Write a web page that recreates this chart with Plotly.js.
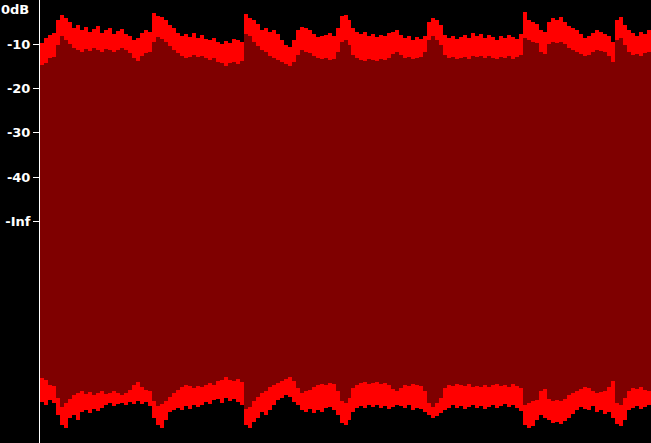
<!DOCTYPE html>
<html>
<head>
<meta charset="utf-8">
<script src="https://cdn.plot.ly/plotly-3.0.1.min.js"></script>
<style>html,body{margin:0;padding:0;background:#000;}#chart{width:651px;height:443px;}</style>
</head>
<body>
<div id="chart"></div>
<script>
// Per-column waveform summary (dB). Positive peak, negative peak, RMS.
const peakPosDb = [-9.7,-8.6,-7.9,-7.4,-4.5,-3.4,-4.1,-5.0,-6.3,-5.6,-6.8,-6.1,-7.2,-6.5,-5.9,-7.4,-6.8,-6.3,-7.7,-7.0,
-6.5,-7.7,-8.1,-9.0,-8.6,-7.4,-6.8,-7.2,-2.9,-3.6,-3.8,-4.5,-5.6,-6.3,-7.4,-8.1,-7.7,-8.4,-7.4,-8.6,
-7.9,-8.8,-9.0,-8.6,-9.5,-9.9,-9.3,-9.7,-8.8,-9.0,-9.5,-3.2,-4.1,-4.5,-5.4,-6.8,-6.3,-7.2,-6.8,-7.7,
-9.0,-10.2,-10.6,-9.0,-6.8,-6.1,-6.3,-6.8,-7.7,-8.4,-8.1,-7.9,-7.4,-8.1,-6.3,-3.6,-3.4,-4.5,-6.3,-7.2,
-7.7,-7.2,-8.1,-7.7,-8.4,-7.9,-8.1,-7.4,-7.2,-6.8,-7.9,-8.6,-8.1,-9.0,-8.4,-8.8,-8.1,-5.0,-4.1,-4.5,
-5.6,-7.9,-8.6,-8.1,-8.8,-8.4,-7.9,-8.6,-7.4,-8.1,-7.7,-8.6,-7.9,-8.4,-9.0,-8.1,-8.6,-7.9,-8.4,-8.8,
-7.7,-2.7,-4.5,-5.0,-5.4,-6.8,-7.2,-5.0,-4.1,-4.5,-3.8,-5.0,-5.9,-6.3,-6.8,-7.7,-8.6,-8.1,-7.4,-6.8,
-7.2,-7.7,-8.1,-9.5,-4.5,-3.8,-5.6,-6.8,-7.4,-8.1,-7.2,-7.7,-6.8];
const peakNegDb = [-9.3,-8.6,-9.7,-9.0,-6.3,-4.1,-3.4,-5.6,-6.3,-5.2,-7.0,-7.4,-6.8,-7.7,-7.2,-7.9,-8.6,-9.0,-8.4,-8.8,
-9.0,-8.6,-9.3,-8.8,-9.5,-8.8,-9.3,-8.4,-5.6,-4.1,-3.4,-5.2,-7.0,-7.4,-7.9,-7.4,-8.4,-7.7,-8.6,-8.1,
-8.6,-9.3,-8.8,-9.7,-9.9,-9.0,-10.2,-9.5,-9.9,-9.3,-8.6,-4.1,-3.4,-4.7,-5.6,-7.0,-6.3,-7.4,-8.6,-9.7,
-10.2,-10.8,-10.4,-9.3,-8.6,-7.4,-7.0,-7.7,-6.8,-7.4,-7.0,-7.9,-8.1,-7.4,-6.3,-4.5,-4.1,-5.2,-7.0,-7.9,
-8.4,-7.9,-8.6,-8.1,-8.6,-7.9,-8.4,-7.7,-8.1,-8.6,-8.4,-7.9,-8.6,-7.4,-7.9,-7.7,-7.0,-6.3,-5.6,-6.1,
-6.8,-7.4,-7.9,-8.6,-7.9,-8.4,-7.7,-8.1,-8.6,-7.9,-8.4,-7.7,-8.1,-8.6,-7.9,-8.4,-8.8,-8.1,-8.6,-7.9,
-7.2,-4.1,-3.4,-3.8,-5.2,-6.3,-5.6,-5.2,-4.5,-4.7,-4.3,-5.0,-5.6,-6.5,-7.4,-8.1,-7.7,-7.4,-8.4,-7.0,
-7.4,-6.5,-7.0,-5.6,-4.3,-3.8,-5.2,-7.4,-7.9,-8.4,-7.7,-8.1,-8.6];
const rmsDb = [-14.7,-14.2,-13.1,-12.9,-10.2,-8.1,-9.0,-9.9,-10.8,-11.3,-11.7,-11.1,-11.5,-10.8,-11.3,-11.7,-11.1,-11.3,-11.7,-11.3,
-10.8,-11.3,-12.0,-13.1,-13.8,-12.6,-12.0,-11.7,-9.5,-8.4,-8.8,-9.5,-10.4,-11.3,-12.0,-12.6,-13.1,-12.9,-12.4,-12.9,
-12.6,-13.1,-13.5,-13.1,-14.0,-14.2,-14.9,-14.2,-14.0,-14.4,-13.8,-7.7,-8.1,-9.5,-10.4,-11.3,-11.7,-12.6,-13.1,-13.5,
-14.0,-14.4,-14.9,-14.0,-12.4,-11.3,-11.7,-12.0,-12.6,-13.1,-13.3,-13.1,-13.5,-13.3,-11.7,-9.5,-9.0,-10.2,-12.4,-13.1,
-13.5,-13.8,-13.3,-13.5,-13.8,-13.3,-13.5,-13.1,-12.2,-11.7,-12.4,-13.1,-12.9,-13.3,-13.1,-12.9,-11.7,-9.0,-8.1,-9.0,
-10.2,-12.4,-13.1,-12.9,-13.3,-13.1,-12.9,-13.3,-12.6,-12.9,-12.6,-13.1,-12.6,-13.1,-13.3,-12.9,-13.1,-12.6,-13.3,-12.9,
-12.4,-8.6,-9.0,-9.5,-9.7,-11.7,-12.2,-9.9,-9.5,-9.7,-9.5,-9.9,-10.8,-11.3,-11.7,-12.2,-12.6,-12.4,-11.7,-11.3,
-11.5,-11.7,-12.6,-14.0,-9.0,-8.6,-10.2,-11.7,-12.4,-12.2,-12.6,-12.0,-11.7];

// Axis labelling (dB scale, -Inf at the centre line)
const dbRange = 50;
const tickDb = [-10, -20, -30, -40, -50];
const tickLabels = ["-10", "-20", "-30", "-40", "-Inf"];
const topLabel = "0dB";

const toPos = db => (db + dbRange) / dbRange;
const xs = peakPosDb.map((_, i) => i);

const peakBase = peakNegDb.map(d => -toPos(d));
const peakLen = peakPosDb.map((d, i) => toPos(d) - peakBase[i]);
const rmsBase = rmsDb.map(d => -toPos(d));
const rmsLen = rmsDb.map(d => 2 * toPos(d));

const traces = [
  {type: 'bar', x: xs, y: peakLen, base: peakBase, width: 1,
   marker: {color: '#ff0000', line: {width: 0}}, hoverinfo: 'skip'},
  {type: 'bar', x: xs, y: rmsLen, base: rmsBase, width: 1,
   marker: {color: '#7f0000', line: {width: 0}}, hoverinfo: 'skip'}
];

const labelFont = {family: 'DejaVu Sans', size: 13, color: '#ffffff', weight: 'bold'};

const layout = {
  width: 651, height: 443,
  margin: {l: 40, r: 0, t: 0, b: 0, pad: 0},
  paper_bgcolor: '#000', plot_bgcolor: '#000',
  barmode: 'overlay', bargap: 0, showlegend: false,
  xaxis: {range: [-0.5, xs.length - 0.5], visible: false, fixedrange: true},
  yaxis: {
    range: [-1, 1], showgrid: false, zeroline: false,
    showline: true, linecolor: '#ffffff', linewidth: 1,
    tickmode: 'array', tickvals: tickDb.map(toPos), ticktext: tickLabels,
    ticks: 'outside', ticklen: 6, tickcolor: '#ffffff', tickwidth: 1,
    tickfont: labelFont,
    fixedrange: true
  },
  annotations: [{
    xref: 'paper', yref: 'paper', x: 0, y: 1, xanchor: 'right', yanchor: 'top',
    xshift: -9, yshift: 0, showarrow: false, text: topLabel,
    font: labelFont
  }]
};

Plotly.newPlot('chart', traces, layout, {displayModeBar: false, staticPlot: true});
</script>
</body>
</html>
